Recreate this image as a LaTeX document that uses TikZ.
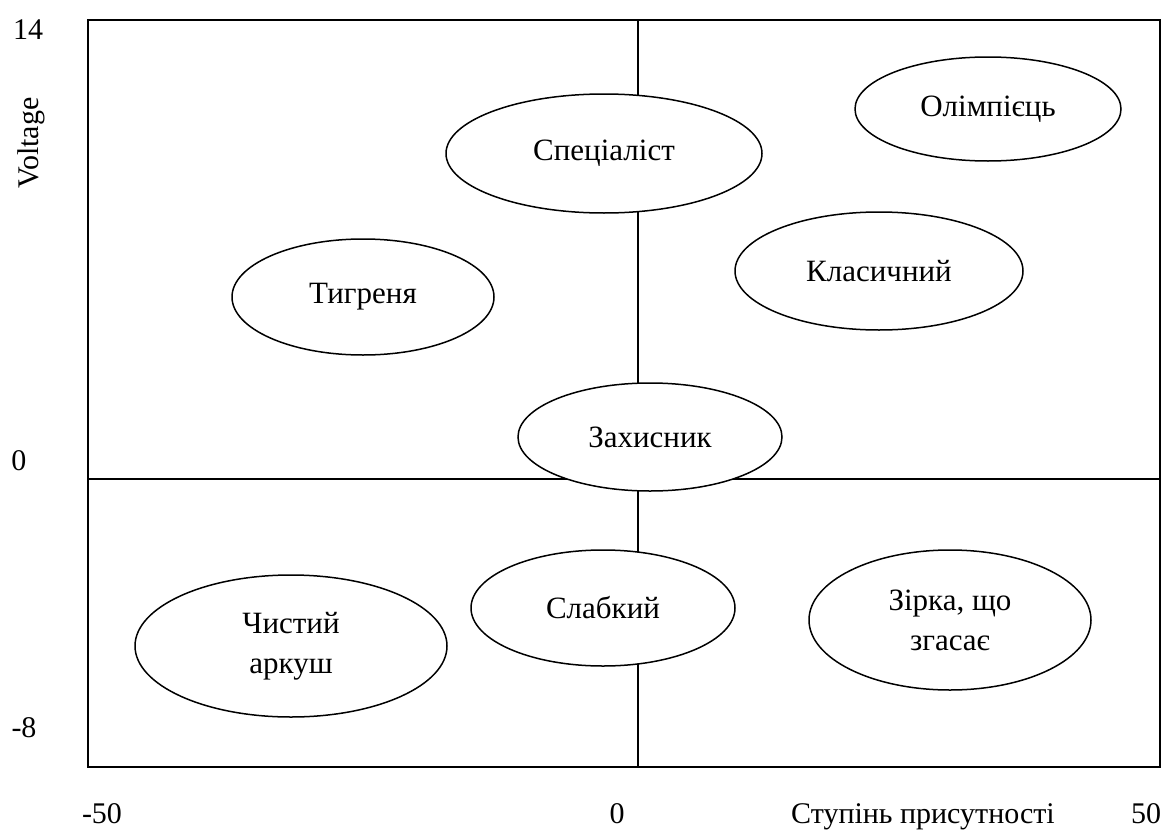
\documentclass[tikz,border=0pt]{standalone}
\usepackage{fontspec}
\setmainfont{Liberation Serif}
\usetikzlibrary{shapes.geometric}
\begin{document}
\begin{tikzpicture}[x=1pt,y=-1pt,
  oval/.style={draw,ellipse,fill=white,line width=1.5pt,inner sep=0pt,align=center,font=\fontsize{31}{40}\selectfont},
  lbl/.style={font=\fontsize{30}{36}\selectfont,inner sep=0pt,anchor=base},
  frame/.style={line width=1.6pt},
  axis/.style={line width=1.2pt}]
\useasboundingbox[fill=white] (0,0) rectangle (1173,835);
\coordinate (tl) at (88,20);
\coordinate (br) at (1160,767);
\coordinate (vt) at (638,20);
\coordinate (vb) at (638,767);
\coordinate (hl) at (88,479);
\coordinate (hr) at (1160,479);
\draw[frame] (tl) rectangle (br);
\draw[axis] (vt) -- (vb);
\draw[axis] (hl) -- (hr);
\node[oval,minimum width=316,minimum height=119] (spec) at (604,153.5) {Спеціаліст};
\node[oval,minimum width=266,minimum height=104] (olim) at (988,109) {Олімпієць};
\node[oval,minimum width=262,minimum height=116] (tyhr) at (363,297) {Тигреня};
\node[oval,minimum width=288,minimum height=118] (klas) at (879,271) {Класичний};
\node[oval,minimum width=264,minimum height=108] (zakh) at (650,437) {Захисник};
\node[oval,minimum width=264,minimum height=116] (slab) at (603,608) {Слабкий};
\node[oval,minimum width=312,minimum height=142] (chys) at (291,646) {Чистий\\аркуш};
\node[oval,minimum width=282,minimum height=140] (zirk) at (950,620) {Зірка, що\\згасає};
\node[lbl] (y14) at (28,39) {14};
\node[lbl] (y0) at (19,470) {0};
\node[lbl] (ym8) at (24,737) {-8};
\node[lbl,rotate=90,anchor=center] (ylab) at (31,143) {Voltage};
\node[lbl] (xm50) at (102,823) {-50};
\node[lbl] (x0) at (617,823) {0};
\node[lbl] (xlab) at (923,823) {Ступінь присутності};
\node[lbl] (x50) at (1146,823) {50};
\end{tikzpicture}
\end{document}
